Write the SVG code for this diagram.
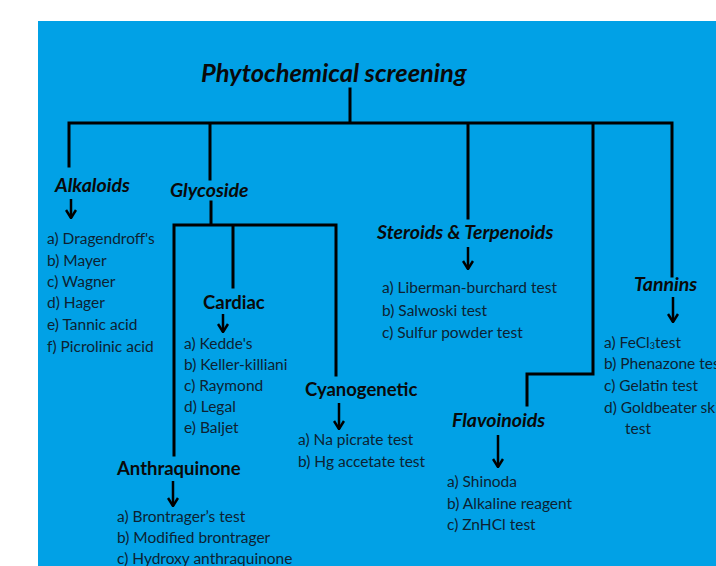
<svg xmlns="http://www.w3.org/2000/svg" width="716" height="566" viewBox="0 0 716 566">
<style>
.bg{fill:#01A1E6}
.ln{stroke:#000;stroke-width:3;fill:none;stroke-linecap:square}
.ar{stroke:#000;stroke-width:2.5;fill:none;marker-end:url(#chev)}
text{font-family:Lato,"Open Sans","Liberation Sans",sans-serif}
.h{font-weight:bold;font-size:18.5px;fill:#0a0a0a}
.hi{font-weight:bold;font-style:italic;font-size:19.5px;fill:#0a0a0a}
.t{font-weight:bold;font-style:italic;font-size:25.5px;fill:#0a0a0a}
.li{font-size:15.5px;fill:#0d2232}
</style>
<defs>
<marker id="chev" viewBox="0 0 10 12" refX="9" refY="6" markerWidth="10" markerHeight="12" markerUnits="userSpaceOnUse" orient="auto">
<path d="M1,1 L9,6 L1,11" fill="none" stroke="#000" stroke-width="2.5"/>
</marker>
</defs>
<rect x="0" y="0" width="716" height="566" fill="#fff"/>
<rect class="bg" x="38" y="21" width="678" height="545"/>
<g id="connectors">
<path class="ln" d="M350,89 V123 M69,123 H672 M69,123 V166 M210,123 V179 M468,123 V218 M593,123 V374 H527 V405 M672,123 V276"/>
<path class="ln" d="M211,202 V225 M174,225 H336 M174,225 V455 M233,225 V287 M336,225 V375"/>
<path class="ar" d="M71,199 V218"/>
<path class="ar" d="M223,314 V332"/>
<path class="ar" d="M339,403 V429"/>
<path class="ar" d="M173,481 V506"/>
<path class="ar" d="M468,247 V269"/>
<path class="ar" d="M673,297 V322"/>
<path class="ar" d="M498,435 V467"/>
</g>
<g id="title"><text class="t" x="201" y="82">Phytochemical screening</text></g>
<g id="alkaloids">
<text class="hi" x="55" y="192">Alkaloids</text>
<text class="li" x="47" y="244">a) Dragendroff's</text>
<text class="li" x="47" y="266">b) Mayer</text>
<text class="li" x="47" y="287">c) Wagner</text>
<text class="li" x="47" y="308">d) Hager</text>
<text class="li" x="47" y="330">e) Tannic acid</text>
<text class="li" x="47" y="352">f) Picrolinic acid</text>
</g>
<g id="glycoside"><text class="hi" x="170" y="197">Glycoside</text></g>
<g id="cardiac">
<text class="h" x="203" y="309">Cardiac</text>
<text class="li" x="184" y="349">a) Kedde's</text>
<text class="li" x="184" y="370">b) Keller-killiani</text>
<text class="li" x="184" y="391">c) Raymond</text>
<text class="li" x="184" y="412">d) Legal</text>
<text class="li" x="184" y="433">e) Baljet</text>
</g>
<g id="cyanogenetic">
<text class="h" x="305" y="396">Cyanogenetic</text>
<text class="li" x="298" y="445">a) Na picrate test</text>
<text class="li" x="298" y="467">b) Hg accetate test</text>
</g>
<g id="anthraquinone">
<text class="h" x="117" y="475">Anthraquinone</text>
<text class="li" x="117" y="522">a) Brontrager’s test</text>
<text class="li" x="117" y="543">b) Modified brontrager</text>
<text class="li" x="117" y="564">c) Hydroxy anthraquinone</text>
</g>
<g id="steroids">
<text class="hi" x="377" y="239">Steroids &amp; Terpenoids</text>
<text class="li" x="382" y="293">a) Liberman-burchard test</text>
<text class="li" x="382" y="316">b) Salwoski test</text>
<text class="li" x="382" y="338">c) Sulfur powder test</text>
</g>
<g id="flavoinoids">
<text class="hi" x="452" y="427">Flavoinoids</text>
<text class="li" x="447" y="487">a) Shinoda</text>
<text class="li" x="447" y="509">b) Alkaline reagent</text>
<text class="li" x="447" y="530">c) ZnHCl test</text>
</g>
<g id="tannins">
<text class="hi" x="634" y="291">Tannins</text>
<text class="li" x="604" y="348">a) FeCl<tspan font-size="9" dy="1">3</tspan><tspan dy="-1">test</tspan></text>
<text class="li" x="604" y="369">b) Phenazone test</text>
<text class="li" x="604" y="391">c) Gelatin test</text>
<text class="li" x="604" y="413">d) Goldbeater skin</text>
<text class="li" x="625" y="434">test</text>
</g>
</svg>
